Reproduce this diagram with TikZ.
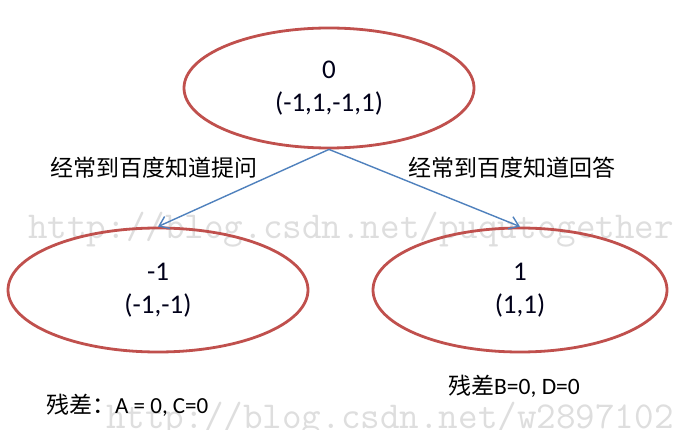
\documentclass[tikz,border=0pt]{standalone}
\usepackage{fontspec}
\setmainfont{Carlito}
\newfontfamily\cjk{Noto Sans CJK SC}
\usetikzlibrary{shapes.geometric,arrows.meta}
\definecolor{ellred}{HTML}{C0504D}
\definecolor{arrblue}{HTML}{4F81BD}
\definecolor{wmgray}{HTML}{DEDEDE}
\tikzset{
  state/.style={ellipse, draw=ellred, line width=2.8pt, inner sep=0pt, align=center,
    font=\fontsize{27}{33}\selectfont, text=black!90!blue},
  edge/.style={draw=arrblue, line width=1.4pt, -{Straight Barb[length=9pt,width=13pt,line width=1.4pt]}},
  lbl/.style={inner sep=0pt, font=\cjk\fontsize{23}{28}\selectfont},
  wm/.style={inner sep=0pt, anchor=west, text=wmgray, font=\ttfamily\fontsize{38}{40}\selectfont}
}
\begin{document}
\begin{tikzpicture}[x=1pt,y=-1pt]
\clip (0,0) rectangle (680,430);
\fill[white] (0,0) rectangle (680,430);
\node[wm] (wm1) at (28,230) {http://blog.csdn.net/puqutogether};
\node[wm] (wm2) at (106,420) {http://blog.csdn.net/w2897102};
\node[state, minimum width=290pt, minimum height=120pt] (top) at (329,88) {0\\(-1,1,-1,1)};
\node[state, minimum width=300pt, minimum height=124pt] (left) at (158,290) {-1\\(-1,-1)};
\node[state, minimum width=294pt, minimum height=124pt] (right) at (520,290) {1\\(1,1)};
\draw[edge] (top.south) -- (left.north);
\draw[edge] (top.south) -- (right.north);
\node[lbl] (l1) at (154,168) {经常到百度知道提问};
\node[lbl] (l2) at (512,168) {经常到百度知道回答};
\node[lbl, anchor=west] (r1) at (46,405) {残差：\fontsize{23}{24}\selectfont\rmfamily A = 0, C=0};
\node[lbl, anchor=west] (r2) at (448,386) {残差\fontsize{23.5}{24}\selectfont\rmfamily B=0, D=0};
\end{tikzpicture}
\end{document}
